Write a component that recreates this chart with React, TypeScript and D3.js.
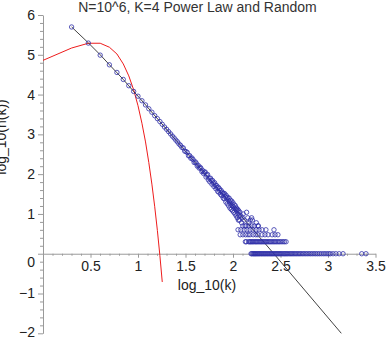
import React, { useEffect, useRef } from 'react';
import * as d3 from 'd3';

// degrees k = 2..118 of the sampled power-law network and their node counts n(k)
const powerK = d3.range(2, 119);
const powerN = [
    500000, 197000, 98000, 56000, 36000, 24000, 16700, 12000, 9100,
    7000, 5500, 4400, 3600, 2950, 2480, 2100, 1790, 1530, 1340,
    1170, 1030, 905, 812, 718, 650, 575, 530, 470, 455,
    380, 370, 350, 290, 292, 250, 255, 232, 196, 205,
    190, 160, 166, 142, 150, 140, 116, 123, 104, 112,
    113, 85, 94, 98, 72, 80, 64, 79, 70, 56,
    69, 60, 49, 61, 53, 43, 52, 46, 37, 47,
    35, 43, 38, 31, 39, 29, 35, 32, 25, 33,
    24, 32, 27, 20, 29, 25, 18, 26, 22, 16,
    25, 20, 14, 22, 18, 13, 21, 16, 12, 19,
    15, 11, 17, 14, 10, 16, 13, 9, 14, 12,
    8, 13, 10, 7, 12, 9, 7, 11,
];

// sparse points at the ragged end of the cluster
const scatterK = [121, 123, 125, 128, 131, 134, 139, 143, 147, 152, 157, 160, 168, 176, 185];
const scatterN = [9, 6, 8, 10, 7, 5, 11, 8, 6, 7, 8, 7, 5, 6, 5];

// tail rows: degrees seen with exactly 1, 2, 3, 4 and 5 nodes
const onesK = [
    155, 158, 162, 165, 169, 172, 176, 180, 184, 188, 192, 197, 201, 206, 211, 216,
    221, 227, 232, 238, 244, 250, 256, 262, 269, 276, 283, 290, 297, 305, 313, 321,
    330, 340, 349, 358, 368, 378, 390, 402, 414, 427, 440, 455, 470, 486, 503, 520,
    540, 560, 582, 605, 630, 655, 683, 712, 742, 775, 810, 848, 890, 930, 975, 1020,
    1060, 1130, 1210, 1310, 1440, 2265, 2510,
];
const twosK = [
    135, 138, 146, 150, 153, 157, 161, 165, 170, 174, 178, 183, 188, 193, 198, 203,
    209, 215, 221, 227, 234, 241, 248, 256, 264, 272, 281, 290, 300, 310, 322, 335, 348, 362,
];
const threesK = [119, 127, 136, 144, 151, 163, 174, 183, 202, 217, 234, 258, 277, 297];
const foursK = [113, 121, 131, 140, 151, 162, 175, 188, 202, 222, 270];
const fivesK = [127, 137, 147, 158, 183];

const fitLogK = [0.301, 0.477, 0.602, 0.699, 0.778, 0.845, 0.903, 0.954, 1.0, 1.5, 2.0, 2.43, 3.14];
const fitLogN = [5.7, 5.3, 5.0, 4.75, 4.55, 4.38, 4.22, 4.08, 3.96, 2.575, 1.19, 0.0, -2.0];

// random (Poisson) graph with the same mean degree
const randomK = d3.range(1, 19);
const randomLogN = [
    4.86, 5.17, 5.29, 5.29, 5.19, 5.02, 4.77, 4.47, 4.12,
    3.72, 3.28, 2.81, 2.29, 1.75, 1.18, 0.58, -0.05, -0.71,
];

// axis ticks
const xTicks = [0.5, 1, 1.5, 2, 2.5, 3, 3.5];
const yTicks = [-2, -1, 0, 1, 2, 3, 4, 5, 6];

const width = 386;
const height = 339;
const font = '"Liberation Sans", Arial, Helvetica, sans-serif';

const App: React.FC = () => {
    const ref = useRef<SVGSVGElement>(null);

    useEffect(() => {
        const svg = d3.select(ref.current);
        svg.selectAll('*').remove();

        const xScale = d3.scaleLinear().domain([0, 3.5]).range([43, 375.5]);
        const yScale = d3.scaleLinear().domain([-2, 6]).range([333.3, 15]);

        const numFmt = (d: d3.NumberValue) => {
            const v = +d;
            return v < 0 ? '\u2212' + Math.abs(v) : String(v);
        };

        // minor ticks every 0.1 on x and 0.2 on y
        const xMinor = d3.range(1, 36).map((i) => i / 10).filter((v) => Math.abs(v * 2 - Math.round(v * 2)) > 1e-6);
        const yMinor = d3.range(-10, 31).map((i) => i / 5).filter((v) => Math.abs(v - Math.round(v)) > 1e-6);

        const axisColor = '#9a9a9a';

        svg.append('g')
            .attr('transform', `translate(0,${yScale(0)})`)
            .call(d3.axisBottom(xScale).tickValues(xMinor).tickSize(2).tickFormat(() => ''))
            .call((g) => g.select('.domain').remove());

        const xAxis = svg
            .append('g')
            .attr('transform', `translate(0,${yScale(0)})`)
            .call(d3.axisBottom(xScale).tickValues(xTicks).tickSize(4).tickSizeOuter(0).tickPadding(3).tickFormat(numFmt));

        svg.append('g')
            .attr('transform', `translate(${xScale(0)},0)`)
            .call(d3.axisLeft(yScale).tickValues(yMinor).tickSize(3).tickFormat(() => ''))
            .call((g) => g.select('.domain').remove());

        const yAxis = svg
            .append('g')
            .attr('transform', `translate(${xScale(0)},0)`)
            .call(d3.axisLeft(yScale).tickValues(yTicks).tickSize(5).tickSizeOuter(0).tickPadding(3).tickFormat(numFmt));

        // the 0 label sits below the x axis, the bottom label is nudged up to stay on the page
        yAxis.selectAll<SVGTextElement, number>('text').filter((d) => d === 0).attr('y', 8);
        yAxis.selectAll<SVGTextElement, number>('text').filter((d) => d === -2).attr('y', -1);

        svg.selectAll('.domain, .tick line').attr('stroke', axisColor).attr('stroke-width', 1);
        [xAxis, yAxis].forEach((ax) =>
            ax.selectAll('text').attr('fill', '#222').style('font-size', '14px').style('font-family', font)
        );

        // random graph curve
        const line = d3
            .line<[number, number]>()
            .x((d) => xScale(d[0]))
            .y((d) => yScale(d[1]));

        svg.append('path')
            .datum(randomK.map((k, i) => [Math.log10(k), randomLogN[i]] as [number, number]))
            .attr('d', line)
            .attr('fill', 'none')
            .attr('stroke', '#ee1c1c')
            .attr('stroke-width', 1);

        // fitted power law line
        svg.append('path')
            .datum(fitLogK.map((k, i) => [k, fitLogN[i]] as [number, number]))
            .attr('d', line)
            .attr('fill', 'none')
            .attr('stroke', '#111')
            .attr('stroke-width', 0.8);

        // all sampled points as (k, n)
        const points: [number, number][] = [
            ...powerK.map((k, i) => [k, powerN[i]] as [number, number]),
            ...scatterK.map((k, i) => [k, scatterN[i]] as [number, number]),
            ...onesK.map((k) => [k, 1] as [number, number]),
            ...twosK.map((k) => [k, 2] as [number, number]),
            ...threesK.map((k) => [k, 3] as [number, number]),
            ...foursK.map((k) => [k, 4] as [number, number]),
            ...fivesK.map((k) => [k, 5] as [number, number]),
        ];

        svg.append('g')
            .selectAll('circle')
            .data(points)
            .enter()
            .append('circle')
            .attr('cx', (d) => xScale(Math.log10(d[0])))
            .attr('cy', (d) => yScale(Math.log10(d[1])))
            .attr('r', 2.2)
            .attr('fill', 'none')
            .attr('stroke', '#3030a8')
            .attr('stroke-width', 0.8);

        // title and axis labels
        svg.append('text')
            .attr('x', 197.5)
            .attr('y', 12)
            .attr('text-anchor', 'middle')
            .style('font-size', '14px')
            .style('font-family', font)
            .attr('fill', '#333')
            .text('N=10^6, K=4 Power Law and Random');

        svg.append('text')
            .attr('x', 207)
            .attr('y', 290)
            .attr('text-anchor', 'middle')
            .style('font-size', '14px')
            .style('font-family', font)
            .attr('fill', '#222')
            .text('log_10(k)');

        svg.append('text')
            .attr('transform', 'translate(6,137) rotate(-90)')
            .attr('text-anchor', 'middle')
            .style('font-size', '14px')
            .style('font-family', font)
            .attr('fill', '#222')
            .text('log_10(n(k))');
    }, []);

    return (
        <svg
            ref={ref}
            width={width}
            height={height}
            style={{ position: 'absolute', left: 0, top: 0, background: '#fff' }}
        ></svg>
    );
};

export default App;
